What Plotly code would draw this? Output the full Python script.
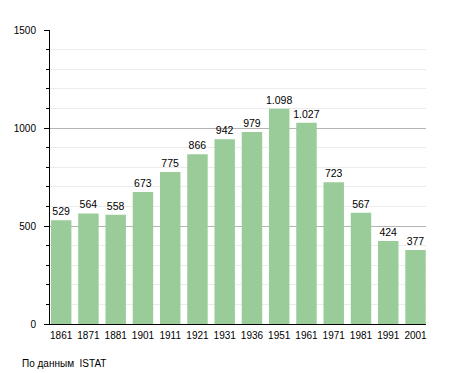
import plotly.graph_objects as go

years = ["1861", "1871", "1881", "1901", "1911", "1921", "1931", "1936", "1951", "1961", "1971", "1981", "1991", "2001"]
population = [529, 564, 558, 673, 775, 866, 942, 979, 1098, 1027, 723, 567, 424, 377]
source_note = "По данным  ISTAT"

FONT = "Liberation Sans, Arial, sans-serif"

fig = go.Figure()
fig.add_trace(go.Bar(
    x=years, y=population,
    marker=dict(color="#99cc99", line=dict(width=0)),
    texttemplate="%{y:,}", textposition="outside",
    constraintext="none",
    textfont=dict(family=FONT, size=10.5, color="black"),
    cliponaxis=False,
))

fig.update_layout(
    width=455, height=373,
    margin=dict(l=50, r=29, t=30, b=49, autoexpand=False),
    paper_bgcolor="white", plot_bgcolor="white",
    separators=",.",
    bargap=0.25,
    showlegend=False,
    font=dict(family=FONT, size=10, color="black"),
    xaxis=dict(
        type="category", range=[-0.41, 13.385],
        showline=True, linecolor="black", linewidth=1,
        ticks="", showgrid=False, tickfont=dict(size=10), automargin=False,
        ticklabelstandoff=2,
    ),
    yaxis=dict(
        range=[0, 1500], tickvals=[0, 500, 1000, 1500],
        showline=True, linecolor="black", linewidth=1,
        ticks="outside", ticklen=5, tickcolor="black",
        gridcolor="#b4b4b4", gridwidth=1, zeroline=False,
        minor=dict(dtick=100, showgrid=True, gridcolor="#ececec", ticks="outside", ticklen=3, tickcolor="black"),
        tickfont=dict(size=10), automargin=False,
        ticklabelstandoff=6,
    ),
    annotations=[dict(
        text=source_note, xref="paper", yref="paper", x=0, y=0,
        xanchor="left", yanchor="middle", xshift=-30, yshift=-39,
        showarrow=False, font=dict(size=10, color="black"),
    )],
)

fig.write_html(
    "out.html",
    config={"displayModeBar": False},
    post_script="document.body.style.margin='0';document.body.style.overflow='hidden';",
)
